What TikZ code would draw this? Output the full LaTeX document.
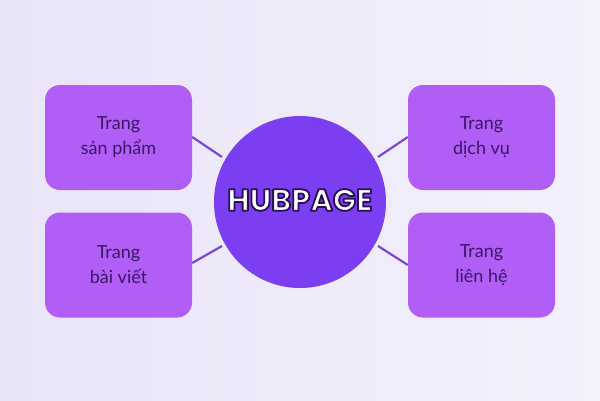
\documentclass[tikz,border=0pt]{standalone}
\usepackage{fontspec}
\setmainfont{Lato}
\newfontfamily\hubfont{Poppins}
\definecolor{bgA}{HTML}{E9E4F8}
\definecolor{bgB}{HTML}{F3F1FC}
\definecolor{boxfill}{HTML}{B05EF6}
\definecolor{hubfill}{HTML}{7B3EF0}
\definecolor{linecol}{HTML}{7A46D2}
\definecolor{txtcol}{HTML}{3B1763}
\begin{document}
\begin{tikzpicture}[x=1pt,y=-1pt,
  pagebox/.style={draw=none, fill=boxfill, rounded corners=15pt, minimum width=147pt, minimum height=105pt, inner sep=0pt, align=center, text=txtcol, font=\fontsize{18}{25}\selectfont},
  hub/.style={circle, fill=hubfill, minimum size=172pt, inner sep=0pt},
  link/.style={draw=linecol, line width=2.2pt}]
\shade[left color=bgA, right color=bgB] (0,0) rectangle (600,400);
\useasboundingbox (0,0) rectangle (600,400);
\node[hub] (hub) at (300,202) {};
\node[text=white] (hubtxt) at (300,200) {\special{pdf:literal direct 0.165 0.059 0.333 RG 1.8 w 1 j 2 Tr}\hubfont\bfseries\fontsize{30.5}{32}\selectfont HUBPAGE\special{pdf:literal direct 0 Tr}};
\node[pagebox] (sp) at (118.5,137.5) {Trang\\sản phẩm};
\node[pagebox] (bv) at (118.5,265) {Trang\\bài viết};
\node[pagebox] (dv) at (481.5,137.5) {Trang\\dịch vụ};
\node[pagebox] (lh) at (481.5,265) {Trang\\liên hệ};
\coordinate (h1) at (222,157);
\coordinate (h2) at (222,246);
\coordinate (h3) at (378,157);
\coordinate (h4) at (378,246);
\draw[link] (sp.east |- 0,137) -- (h1);
\draw[link] (bv.east |- 0,263) -- (h2);
\draw[link] (dv.west |- 0,137) -- (h3);
\draw[link] (lh.west |- 0,265) -- (h4);
\end{tikzpicture}
\end{document}
